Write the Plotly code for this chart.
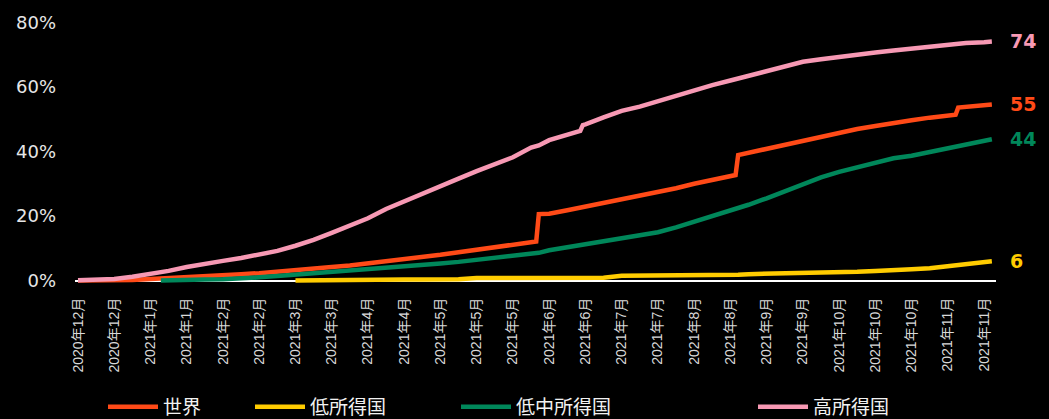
import pandas as pd
import plotly.graph_objects as go

# Observation dates (weekly, plus the days around step changes)
dates = [
    "2020-12-13", "2020-12-20", "2020-12-27", "2021-01-03", "2021-01-10", "2021-01-14",
    "2021-01-17", "2021-01-24", "2021-01-31", "2021-02-07", "2021-02-14", "2021-02-21",
    "2021-02-28", "2021-03-07", "2021-03-14", "2021-03-21", "2021-03-28", "2021-04-04",
    "2021-04-11", "2021-04-18", "2021-04-25", "2021-05-02", "2021-05-09", "2021-05-16",
    "2021-05-23", "2021-05-30", "2021-06-06", "2021-06-08", "2021-06-09", "2021-06-13",
    "2021-06-20", "2021-06-25", "2021-06-26", "2021-06-27", "2021-07-04", "2021-07-11",
    "2021-07-18", "2021-07-25", "2021-08-01", "2021-08-08", "2021-08-15", "2021-08-22",
    "2021-08-24", "2021-08-25", "2021-08-29", "2021-09-05", "2021-09-12", "2021-09-19",
    "2021-09-26", "2021-10-03", "2021-10-10", "2021-10-17", "2021-10-24", "2021-10-31",
    "2021-11-07", "2021-11-14", "2021-11-17", "2021-11-18", "2021-11-21", "2021-11-28",
    "2021-12-01",
]

# Share of population vaccinated (%)
world = [
    0.0, 0.0, 0.1, 0.2, 0.5, 0.7, 0.9, 1.2, 1.3, 1.7, 2.0, 2.3, 2.7, 3.2, 3.8, 4.2,
    4.7, 5.3, 5.9, 6.6, 7.4, 8.0, 8.8, 9.6, 10.2, 11.0, 11.8, 12.1, 20.6, 20.7, 21.8,
    22.6, 22.7, 22.9, 23.8, 25.0, 26.2, 27.4, 28.6, 30.0, 31.3, 32.5, 32.7, 38.9, 39.6,
    40.9, 42.3, 43.6, 44.8, 46.0, 47.0, 47.9, 48.9, 49.7, 50.5, 51.2, 51.4, 53.6, 53.8,
    54.3, 54.6,
]
low_income = [
    None, None, None, None, None, None, None, None, None, None, None, None, None,
    0.0, 0.1, 0.2, 0.2, 0.2, 0.3, 0.3, 0.3, 0.3, 0.4, 0.8, 0.8, 0.8, 0.9, 0.9, 0.9,
    0.9, 0.9, 0.9, 0.9, 0.9, 0.9, 1.5, 1.5, 1.5, 1.6, 1.6, 1.6, 1.7, 1.7, 1.8, 2.0,
    2.1, 2.1, 2.2, 2.5, 2.6, 2.7, 3.0, 3.1, 3.5, 3.8, 4.5, 4.8, 4.9, 5.1, 5.8, 6.0,
]
lower_middle = [
    None, None, None, None, None, 0.0, 0.1, 0.2, 0.3, 0.4, 0.6, 1.0, 1.4, 1.8, 2.2,
    2.6, 3.0, 3.5, 3.9, 4.4, 4.8, 5.3, 5.8, 6.4, 7.0, 7.5, 8.3, 8.5, 8.6, 9.4, 10.3,
    11.1, 11.2, 11.3, 12.3, 13.2, 14.0, 15.0, 16.5, 18.2, 20.0, 21.8, 22.1, 22.2, 23.5,
    25.5, 27.6, 29.7, 32.0, 33.7, 35.2, 36.6, 37.9, 38.7, 39.9, 41.2, 41.6, 41.7, 42.2,
    43.3, 43.8,
]
high_income = [
    0.1, 0.2, 0.5, 1.2, 2.0, 2.4, 3.0, 4.2, 5.3, 6.1, 7.0, 8.2, 9.2, 10.8, 12.6, 14.8,
    17.0, 19.3, 22.2, 24.6, 27.1, 29.4, 31.6, 33.9, 36.1, 38.2, 41.2, 41.7, 41.9, 43.5,
    45.2, 46.4, 48.2, 48.4, 50.6, 52.6, 53.9, 55.6, 57.4, 59.1, 60.6, 62.0, 62.4, 62.6,
    63.6, 65.0, 66.5, 67.8, 68.6, 69.4, 70.1, 70.7, 71.3, 71.9, 72.6, 73.1, 73.3, 73.3,
    73.6, 73.9, 74.1,
]

series_names = ["世界", "低所得国", "低中所得国", "高所得国"]
series_values = [world, low_income, lower_middle, high_income]
series_colors = ["#FF4A17", "#FFCC00", "#00875A", "#F799B4"]

tick_labels = [
    "2020年12月", "2020年12月", "2021年1月", "2021年1月", "2021年2月", "2021年2月",
    "2021年3月", "2021年3月", "2021年4月", "2021年4月", "2021年5月", "2021年5月",
    "2021年5月", "2021年6月", "2021年6月", "2021年7月", "2021年7月", "2021年8月",
    "2021年8月", "2021年9月", "2021年9月", "2021年10月", "2021年10月", "2021年10月",
    "2021年11月", "2021年11月",
]
y_ticks = [0, 20, 40, 60, 80]

x = pd.to_datetime(dates)
start = x[0]
tick_vals = pd.date_range(start, periods=len(tick_labels), freq="14D")

cjk = "Liberation Sans, Noto Sans CJK JP, sans-serif"
legend_names = ["legend", "legend2", "legend3", "legend4"]
legend_x_px = [103, 250, 456, 753]

fig = go.Figure()
for name, vals, color, lg in zip(series_names, series_values, series_colors, legend_names):
    fig.add_trace(go.Scatter(
        x=x, y=vals, name=name, mode="lines",
        line=dict(color=color, width=4.5),
        legend=lg, hoverinfo="skip",
    ))

# End-of-line value labels
for vals, color in zip(series_values, series_colors):
    last = vals[-1]
    fig.add_annotation(
        x=x[-1], y=last, text=f"<b>{round(last)}</b>", showarrow=False,
        xanchor="left", yanchor="middle", xshift=16,
        font=dict(color=color, size=19, family="DejaVu Sans, sans-serif"),
    )

legend_common = dict(
    orientation="h", xref="container", yref="container", xanchor="left",
    yanchor="middle", y=1 - 407 / 419, bgcolor="rgba(0,0,0,0)", itemwidth=50,
    font=dict(color="#f2f2f2", size=19, family=cjk),
)
layout_legends = {
    lg: dict(legend_common, x=px / 1049) for lg, px in zip(legend_names, legend_x_px)
}

fig.update_layout(
    width=1049, height=419,
    paper_bgcolor="#000000", plot_bgcolor="#000000",
    margin=dict(l=75, r=53, t=14, b=135),
    showlegend=True,
    **layout_legends,
)

fig.update_xaxes(
    type="date",
    range=[start - pd.Timedelta(days=1.16), start + pd.Timedelta(days=354.6)],
    tickvals=tick_vals, ticktext=tick_labels, tickangle=-90,
    tickfont=dict(color="#d9d9d9", size=14, family=cjk),
    showgrid=False, zeroline=False, showline=False, ticks="",
    ticklabelstandoff=10,
)
fig.update_yaxes(
    range=[-1.06, 80.45],
    tickvals=y_ticks, ticktext=[f"{v}%" for v in y_ticks],
    tickfont=dict(color="#e6e6e6", size=18, family="DejaVu Sans, sans-serif"),
    showgrid=False, zeroline=True, zerolinecolor="#ffffff", zerolinewidth=2,
    showline=False, ticks="", ticklabelstandoff=18,
)

fig.write_html("out.html")
